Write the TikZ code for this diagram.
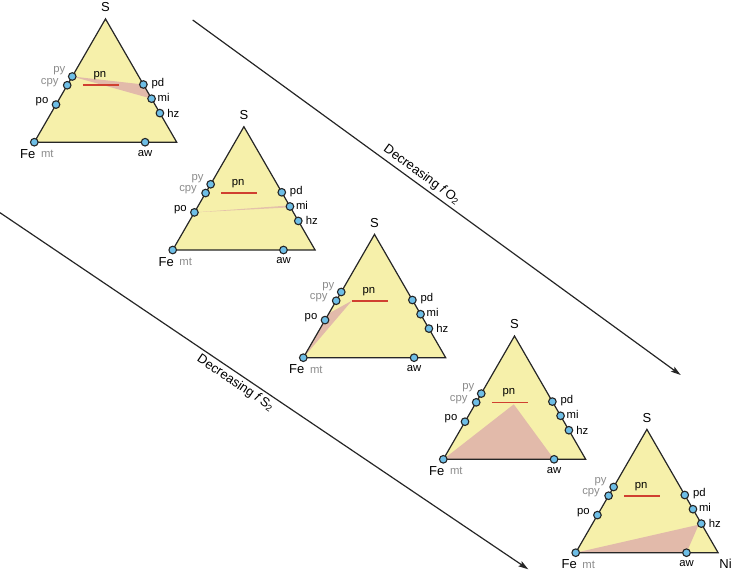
\documentclass[tikz,border=0pt]{standalone}
\usepackage{fontspec}
\setmainfont{Liberation Sans}
\usetikzlibrary{arrows.meta,calc}
\definecolor{triyellow}{RGB}{246,240,170}
\definecolor{tripink}{RGB}{226,186,170}
\definecolor{dotblue}{RGB}{110,190,230}
\definecolor{pnred}{RGB}{208,64,48}
\definecolor{lblgray}{RGB}{140,140,140}
\tikzset{
 yfill/.style={fill=triyellow},
 pfill/.style={fill=tripink},
 tedge/.style={draw=black!85, line width=1.2pt, line join=miter},
 pnline/.style={draw=pnred, line width=1.6pt},
 mdot/.style={circle, draw=black!85, fill=dotblue, line width=1.1pt, minimum size=7.6pt, inner sep=0pt},
 mlbl/.style={font=\fontsize{11.3}{13}\selectfont, inner sep=0pt},
 glbl/.style={mlbl, text=lblgray},
 clbl/.style={font=\fontsize{13}{15}\selectfont, inner sep=0pt},
 arr/.style={draw=black!85, line width=1.2pt, -{Stealth[length=10pt,width=6pt,inset=2pt]}},
 alabel/.style={font=\fontsize{13}{15}\selectfont, inner sep=3pt}
}
\newcommand\ternplot[4]{%
\begin{scope}[shift={(#2,#3)}]
\coordinate (#1-Fe) at (0,0);
\coordinate (#1-Ni) at (142.4,0);
\coordinate (#1-S) at (71.2,-123.3);
\coordinate (#1-po) at ($(#1-Fe)!0.305!(#1-S)$);
\coordinate (#1-cpy) at ($(#1-Fe)!0.462!(#1-S)$);
\coordinate (#1-py) at ($(#1-Fe)!0.533!(#1-S)$);
\coordinate (#1-pd) at ($(#1-Ni)!0.468!(#1-S)$);
\coordinate (#1-mi) at ($(#1-Ni)!0.353!(#1-S)$);
\coordinate (#1-hz) at ($(#1-Ni)!0.236!(#1-S)$);
\coordinate (#1-aw) at ($(#1-Fe)!0.778!(#1-Ni)$);
\coordinate (#1-pnA) at (48.6,-57);
\coordinate (#1-pnB) at (84.6,-57);
\fill[yfill] (#1-Fe) -- (#1-Ni) -- (#1-S) -- cycle;
#4
\draw[pnline] (#1-pnA) -- (#1-pnB);
\draw[tedge] (#1-Fe) -- (#1-Ni) -- (#1-S) -- cycle;
\foreach \m in {po,cpy,py,pd,mi,hz,aw,Fe} {\node[mdot] (#1-\m-dot) at (#1-\m) {};}
\node[clbl] (#1-Slbl) at ($(#1-S)+(0,-11.5)$) {S};
\node[clbl] (#1-Felbl) at ($(#1-Fe)+(-6.5,11.8)$) {Fe};
\node[glbl] (#1-mtlbl) at ($(#1-Fe)+(13,11.8)$) {mt};
\node[mlbl] (#1-awlbl) at ($(#1-aw)+(0,11)$) {aw};
\node[glbl] (#1-pylbl) at ($(#1-py)+(-13,-5.5)$) {py};
\node[glbl] (#1-cpylbl) at ($(#1-cpy)+(-17.5,-3)$) {cpy};
\node[mlbl] (#1-polbl) at ($(#1-po)+(-14,-2.6)$) {po};
\node[mlbl] (#1-pdlbl) at ($(#1-pd)+(14.5,-1)$) {pd};
\node[mlbl] (#1-milbl) at ($(#1-mi)+(12,-1.4)$) {mi};
\node[mlbl] (#1-hzlbl) at ($(#1-hz)+(13.5,0)$) {hz};
\node[mlbl] (#1-pnlbl) at (65.5,-66.5) {pn};
\end{scope}}

\begin{document}
\begin{tikzpicture}[x=1pt,y=-1pt]
\useasboundingbox (0,0) rectangle (731,573);
% arrows
\coordinate (o2start) at (192.7,20);
\coordinate (o2end) at (680.7,375);
\coordinate (s2start) at (0,212.7);
\coordinate (s2end) at (528.3,569.3);
\draw[arr] (o2start) -- (o2end) node[alabel, pos=0.458, sloped, above] (o2lbl) {Decreasing \textit{f}\kern0.12em O\textsubscript{2}};
\draw[arr] (s2start) -- (s2end) node[alabel, pos=0.456, sloped, below] (s2lbl) {Decreasing \textit{f}\kern0.12em S\textsubscript{2}};
% triangles
\ternplot{t1}{34.3}{142.2}{\fill[pfill] (t1-py) -- (t1-pd) -- (t1-mi) -- cycle;}
\ternplot{t2}{172.7}{250}{\fill[pfill, opacity=0.85] (t2-po) -- ($(t2-mi)+(0,-1.1)$) -- ($(t2-mi)+(0,0.9)$) -- cycle;}
\ternplot{t3}{303.3}{357.7}{\fill[pfill] (t3-Fe) -- (t3-pnA) -- ($(t3-Fe)!0.36!(t3-S)$) -- cycle;}
\ternplot{t4}{443.3}{459.3}{\fill[pfill] (t4-Fe) -- (70.5,-55) -- (t4-aw) -- cycle;}
\ternplot{t5}{575.7}{552.7}{\fill[pfill] (t5-Fe) -- (123,-28) -- (t5-aw) -- cycle;}
\node[clbl] (t5-Nilbl) at ($(t5-Ni)+(7.5,11)$) {Ni};
\end{tikzpicture}
\end{document}
